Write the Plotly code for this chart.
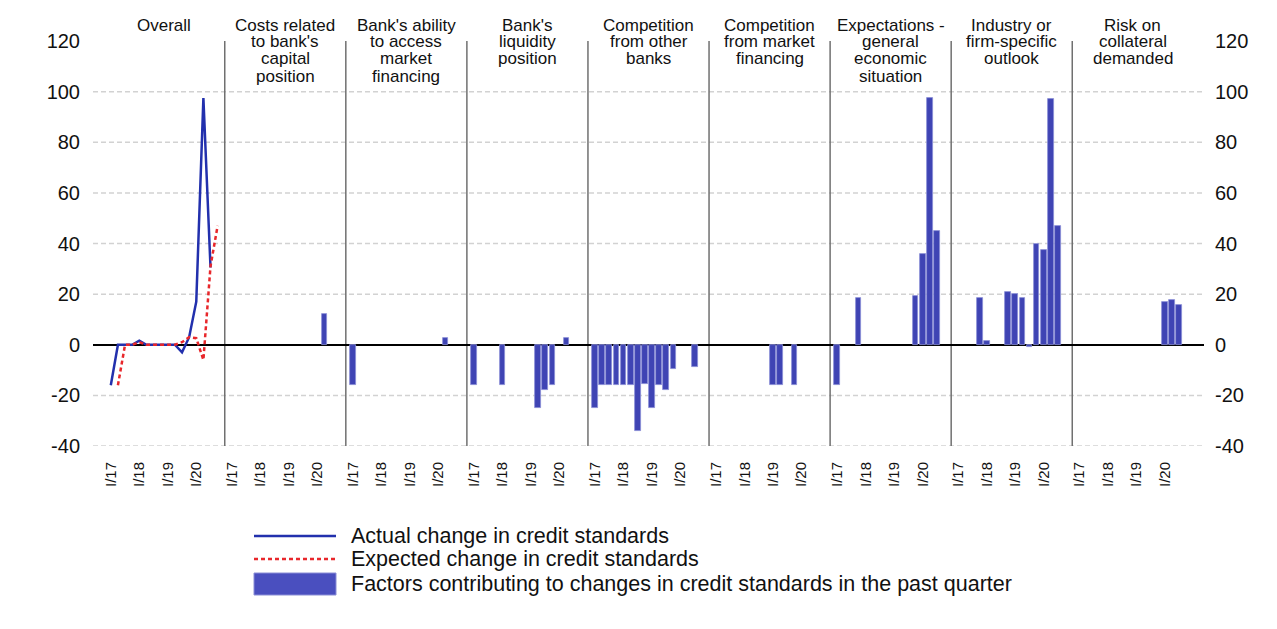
import plotly.graph_objects as go

# ---------------- data ----------------
quarters = ["I/17", "II/17", "III/17", "IV/17", "I/18", "II/18", "III/18", "IV/18",
            "I/19", "II/19", "III/19", "IV/19", "I/20", "II/20", "III/20", "IV/20"]
tick_labels = ["I/17", "I/18", "I/19", "I/20"]

panel_titles = [
    ["Overall"],
    ["Costs related", "to bank's", "capital", "position"],
    ["Bank's ability", "to access", "market", "financing"],
    ["Bank's", "liquidity", "position"],
    ["Competition", "from other", "banks"],
    ["Competition", "from market", "financing"],
    ["Expectations -", "general", "economic", "situation"],
    ["Industry or", "firm-specific", "outlook"],
    ["Risk on", "collateral", "demanded"],
]

# Overall: actual (I/17 - III/20) and expected (II/17 - IV/20)
actual_quarters = quarters[0:15]
actual_change = [-16, 0, 0, 0, 1.6, 0, 0, 0, 0, 0, -3, 3, 17, 97.5, 30.5]
expected_quarters = quarters[1:16]
expected_change = [-16, 0, 0, 1, 0, 0, 0, 0, 0, 1, 3, 2.6, -6, 31, 47]

N = None
factor_costs_capital = [N, N, N, N, N, N, N, N, N, N, N, N, N, 12, N, N]
factor_market_access = [-16, N, N, N, N, N, N, N, N, N, N, N, N, 2.6, N, N]
factor_liquidity = [-16, N, N, N, -16, N, N, N, N, -25, -18, -16, N, 2.6, N, N]
factor_comp_banks = [-25, -16, -16, -16, -16, -16, -34, -15.5, -25, -16, -18, -9.5, N, N, -8.6, N]
factor_comp_market = [N, N, N, N, N, N, N, N, -16, -16, N, -16, N, N, N, N]
factor_expectations = [-16, N, N, 18.6, N, N, N, N, N, N, N, 19.3, 36, 97.4, 45, N]
factor_industry = [N, N, N, 18.6, 1.5, N, N, 21, 20.2, 18.6, -1, 39.7, 37.5, 97, 47, N]
factor_collateral = [N, N, N, N, N, N, N, N, N, N, N, N, 17, 17.6, 15.8, N]

factor_panels = [None, factor_costs_capital, factor_market_access, factor_liquidity,
                 factor_comp_banks, factor_comp_market, factor_expectations,
                 factor_industry, factor_collateral]

legend_items = ["Actual change in credit standards", "Expected change in credit standards",
                "Factors contributing to changes in credit standards in the past quarter"]

y_ticks = [-40, -20, 0, 20, 40, 60, 80, 100, 120]
y_ticktext = [str(v) for v in y_ticks]  # plain hyphen minus as in the reference

# ---------------- layout helpers ----------------
SLOTS = len(quarters) + 1  # 16 quarters + 1 separator slot per panel
qidx = {q: i for i, q in enumerate(quarters)}


def gx(panel, q):
    return panel * SLOTS + qidx[q]


FONT = "Liberation Sans, Arial, sans-serif"
BAR_COLOR = "#3f44b4"
BAR_EDGE = "#8a8ed6"
BLUE = "#2230ad"
RED = "#e8272b"

# page geometry (browser body has an 8px margin)
OFF = 8
PAGE_W, PAGE_H = 1277, 629
W, H = PAGE_W - 2 * OFF, PAGE_H - 2 * OFF
PLOT_L, PLOT_R, PLOT_T, PLOT_B = 93, 1204, 41, 446  # page pixels
L = PLOT_L - OFF
T = PLOT_T - OFF
R = W - (PLOT_R - OFF)
B = H - (PLOT_B - OFF)
pw, ph = PLOT_R - PLOT_L, PLOT_B - PLOT_T


def py(pix):  # page pixel y -> paper
    return (PLOT_B - pix) / ph


def pxp(pix):  # page pixel x -> paper
    return (pix - PLOT_L) / pw


fig = go.Figure()

# bars
bx, by = [], []
for p, vals in enumerate(factor_panels):
    if vals is None:
        continue
    for q, v in zip(quarters, vals):
        if v is not None:
            bx.append(gx(p, q))
            by.append(v)
fig.add_trace(go.Bar(x=bx, y=by, width=0.8,
                     marker=dict(color=BAR_COLOR, line=dict(color=BAR_EDGE, width=0.8)),
                     showlegend=False, hoverinfo="x+y"))

fig.add_trace(go.Scatter(x=[gx(0, q) for q in actual_quarters], y=actual_change, mode="lines",
                         line=dict(color=BLUE, width=2.5), showlegend=False))
fig.add_trace(go.Scatter(x=[gx(0, q) for q in expected_quarters], y=expected_change, mode="lines",
                         line=dict(color=RED, width=2.5, dash="4px,3px"), showlegend=False))
# invisible trace for right axis
fig.add_trace(go.Scatter(x=[None], y=[None], yaxis="y2", showlegend=False, hoverinfo="skip"))

n_panels = len(panel_titles)
tickvals, ticktext = [], []
for p in range(n_panels):
    for t in tick_labels:
        tickvals.append(gx(p, t))
        ticktext.append(t)

x_min = -2.5
x_max = (n_panels - 1) * SLOTS + len(quarters) - 1 + 2.5

shapes = []
# dashed gridlines
for v in y_ticks[:-1]:
    shapes.append(dict(type="line", xref="paper", yref="y", x0=0, x1=1, y0=v, y1=v, layer="below",
                       line=dict(color="#d2d2d2", width=1.5, dash="5px,3px")))
# panel separators
for p in range(1, n_panels):
    sx = p * SLOTS - 1
    shapes.append(dict(type="line", xref="x", yref="y", x0=sx, x1=sx, y0=y_ticks[0], y1=y_ticks[-1],
                       layer="below", line=dict(color="#707070", width=1.5)))

annotations = []
for p, lines in enumerate(panel_titles):
    cx = p * SLOTS + (len(quarters) - 1) / 2
    for k, line in enumerate(lines):
        annotations.append(dict(x=cx, xref="x", y=py(25 + 17 * k), yref="paper", text=line,
                                showarrow=False, xanchor="center", yanchor="middle",
                                font=dict(family=FONT, size=17, color="#111")))

# custom legend
leg_y = [536, 559, 584]
shapes.append(dict(type="line", xref="paper", yref="paper", x0=pxp(254), x1=pxp(336),
                   y0=py(leg_y[0]), y1=py(leg_y[0]), line=dict(color=BLUE, width=2.5)))
shapes.append(dict(type="line", xref="paper", yref="paper", x0=pxp(254), x1=pxp(336),
                   y0=py(leg_y[1]), y1=py(leg_y[1]), line=dict(color=RED, width=2.5, dash="4px,3px")))
shapes.append(dict(type="rect", xref="paper", yref="paper", x0=pxp(254), x1=pxp(336),
                   y0=py(595), y1=py(573), fillcolor="#4a4fbf", line=dict(color=BAR_EDGE, width=1)))
for txt, yy in zip(legend_items, leg_y):
    annotations.append(dict(x=pxp(349), xref="paper", y=py(yy), yref="paper", text=txt, showarrow=False,
                            xanchor="left", yanchor="middle",
                            font=dict(family=FONT, size=21.5, color="#111")))

fig.update_layout(
    width=W, height=H,
    margin=dict(l=L, r=R, t=T, b=B, pad=0),
    paper_bgcolor="white", plot_bgcolor="white",
    font=dict(family=FONT, color="#111"),
    bargap=0,
    xaxis=dict(range=[x_min, x_max], tickmode="array", tickvals=tickvals, ticktext=ticktext,
               tickangle=-90, showgrid=False, zeroline=False, showline=False, ticks="",
               tickfont=dict(size=15, family=FONT, color="#111"), ticklabelstandoff=12),
    yaxis=dict(range=[y_ticks[0], y_ticks[-1]], tickmode="array", tickvals=y_ticks, ticktext=y_ticktext,
               showgrid=False, zeroline=True, zerolinecolor="#000", zerolinewidth=1.5, showline=False,
               ticks="", tickfont=dict(size=20, family=FONT, color="#111"), ticklabelstandoff=12),
    yaxis2=dict(range=[y_ticks[0], y_ticks[-1]], tickmode="array", tickvals=y_ticks, ticktext=y_ticktext,
                overlaying="y", side="right", showgrid=False, zeroline=False, showline=False, ticks="",
                tickfont=dict(size=20, family=FONT, color="#111"), ticklabelstandoff=10),
    shapes=shapes,
    annotations=annotations,
    showlegend=False,
)

fig.write_html("out.html")
